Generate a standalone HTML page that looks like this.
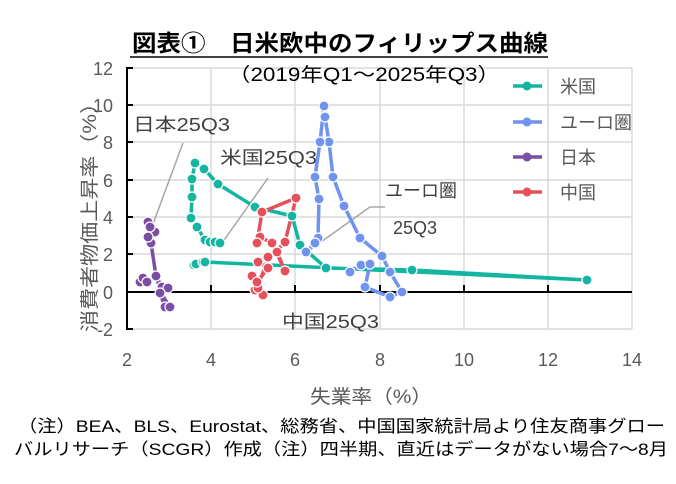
<!DOCTYPE html>
<html><head><meta charset="utf-8"><style>
body{margin:0;background:#fff;width:676px;height:479px;overflow:hidden}
svg text{font-family:"Liberation Sans","Noto Sans CJK JP",sans-serif}
</style></head><body>
<svg width="676" height="479" viewBox="0 0 676 479">
<g stroke="#d9d9d9" stroke-width="1.5" fill="none">
<line x1="127" y1="68" x2="632" y2="68"/><line x1="127" y1="105" x2="632" y2="105"/><line x1="127" y1="142" x2="632" y2="142"/><line x1="127" y1="180" x2="632" y2="180"/><line x1="127" y1="217" x2="632" y2="217"/><line x1="127" y1="254" x2="632" y2="254"/><line x1="127" y1="329" x2="632" y2="329"/>
<line x1="211" y1="68" x2="211" y2="329"/><line x1="295" y1="68" x2="295" y2="329"/><line x1="380" y1="68" x2="380" y2="329"/><line x1="464" y1="68" x2="464" y2="329"/><line x1="548" y1="68" x2="548" y2="329"/><line x1="632" y1="68" x2="632" y2="329"/>
</g>
<g stroke="#000" stroke-width="2">
<line x1="127" y1="67" x2="127" y2="330"/><line x1="127" y1="292" x2="632" y2="292"/>
<line x1="127" y1="68" x2="133" y2="68"/><line x1="127" y1="105" x2="133" y2="105"/><line x1="127" y1="142" x2="133" y2="142"/><line x1="127" y1="180" x2="133" y2="180"/><line x1="127" y1="217" x2="133" y2="217"/><line x1="127" y1="254" x2="133" y2="254"/><line x1="127" y1="329" x2="133" y2="329"/>
<line x1="211" y1="292" x2="211" y2="285"/><line x1="295" y1="292" x2="295" y2="285"/><line x1="380" y1="292" x2="380" y2="285"/><line x1="464" y1="292" x2="464" y2="285"/><line x1="548" y1="292" x2="548" y2="285"/>
</g>
<g font-size="18" fill="#595959" text-anchor="end">
<text x="113" y="75">12</text><text x="113" y="112">10</text><text x="113" y="149">8</text><text x="113" y="187">6</text><text x="113" y="224">4</text><text x="113" y="261">2</text><text x="113" y="299">0</text><text x="113" y="336">-2</text>
</g>
<g font-size="18" fill="#595959" text-anchor="middle">
<text x="127" y="366">2</text><text x="211" y="366">4</text><text x="295" y="366">6</text><text x="380" y="366">8</text><text x="464" y="366">10</text><text x="548" y="366">12</text><text x="632" y="366">14</text>
</g>
<text x="310" y="403" font-size="19" fill="#595959" textLength="122" lengthAdjust="spacingAndGlyphs">失業率（%）</text>
<text transform="translate(96,332) rotate(-90)" font-size="19" fill="#595959" textLength="240" lengthAdjust="spacingAndGlyphs">消費者物価上昇率（%）</text>
<text x="132" y="51" font-size="23" font-weight="bold" fill="#000" textLength="416" lengthAdjust="spacingAndGlyphs">図表①　日米欧中のフィリップス曲線</text>
<line x1="130" y1="57" x2="548" y2="57" stroke="#000" stroke-width="1.5"/>
<text x="228" y="81" font-size="19" fill="#000" textLength="272" lengthAdjust="spacingAndGlyphs">（2019年Q1～2025年Q3）</text>
<g stroke="#a6a6a6" stroke-width="1.5" fill="none">
<line x1="183" y1="143" x2="150" y2="232"/>
<line x1="268" y1="178" x2="222" y2="243"/>
<polyline points="385,207 370,207 307,252"/>
</g>
<g font-size="18" fill="#404040">
<text x="133" y="131" textLength="97" lengthAdjust="spacingAndGlyphs">日本25Q3</text><text x="220" y="164" textLength="97" lengthAdjust="spacingAndGlyphs">米国25Q3</text><text x="385" y="197">ユーロ圏</text><text x="393" y="234">25Q3</text><text x="282" y="328" textLength="97" lengthAdjust="spacingAndGlyphs">中国25Q3</text>
</g>
<g fill="none" stroke-width="3.5" stroke-linejoin="round">
<polyline stroke="#13b5a0" points="194,265 196,264 203,262 205,262 587,280 412,270 326,268 300,245 292,216 255,207 218,184 204,169 195,163 192,179 192,197 191,218 197,227 205,240 210,242 215,242 220,243"/>
<polyline stroke="#6f93ee" points="350,272 361,265 370,264 365,287 390,297 402,292 390,272 382,256 360,238 344,206 333,177 329,142 325,117 324,106 320,142 315,177 319,199 318,238 315,243 306,252"/>
<polyline stroke="#7b4ea3" points="140,282 143,278 147,282 156,276 162,287 168,288 160,293 165,307 170,307 162,295 156,276 151,243 148,222 155,232 150,227 148,237 151,243"/>
<polyline stroke="#e5505a" points="255,290 263,295 258,288 252,276 257,282 268,268 258,262 268,257 277,252 285,271 272,243 260,237 257,243 262,212 296,198 285,242 268,260 258,285"/>
</g>
<g stroke="#fff" stroke-width="1.2">
<g fill="#13b5a0"><circle cx="194" cy="265" r="5"/><circle cx="196" cy="264" r="5"/><circle cx="203" cy="262" r="5"/><circle cx="205" cy="262" r="5"/><circle cx="587" cy="280" r="5"/><circle cx="412" cy="270" r="5"/><circle cx="326" cy="268" r="5"/><circle cx="300" cy="245" r="5"/><circle cx="292" cy="216" r="5"/><circle cx="255" cy="207" r="5"/><circle cx="218" cy="184" r="5"/><circle cx="204" cy="169" r="5"/><circle cx="195" cy="163" r="5"/><circle cx="192" cy="179" r="5"/><circle cx="192" cy="197" r="5"/><circle cx="191" cy="218" r="5"/><circle cx="197" cy="227" r="5"/><circle cx="205" cy="240" r="5"/><circle cx="210" cy="242" r="5"/><circle cx="215" cy="242" r="5"/><circle cx="220" cy="243" r="5"/></g>
<g fill="#6f93ee"><circle cx="350" cy="272" r="5"/><circle cx="361" cy="265" r="5"/><circle cx="370" cy="264" r="5"/><circle cx="365" cy="287" r="5"/><circle cx="390" cy="297" r="5"/><circle cx="402" cy="292" r="5"/><circle cx="390" cy="272" r="5"/><circle cx="382" cy="256" r="5"/><circle cx="360" cy="238" r="5"/><circle cx="344" cy="206" r="5"/><circle cx="333" cy="177" r="5"/><circle cx="329" cy="142" r="5"/><circle cx="325" cy="117" r="5"/><circle cx="324" cy="106" r="5"/><circle cx="320" cy="142" r="5"/><circle cx="315" cy="177" r="5"/><circle cx="319" cy="199" r="5"/><circle cx="318" cy="238" r="5"/><circle cx="315" cy="243" r="5"/><circle cx="306" cy="252" r="5"/></g>
<g fill="#7b4ea3"><circle cx="140" cy="282" r="5"/><circle cx="143" cy="278" r="5"/><circle cx="147" cy="282" r="5"/><circle cx="156" cy="276" r="5"/><circle cx="162" cy="287" r="5"/><circle cx="168" cy="288" r="5"/><circle cx="160" cy="293" r="5"/><circle cx="165" cy="307" r="5"/><circle cx="170" cy="307" r="5"/><circle cx="151" cy="243" r="5"/><circle cx="148" cy="222" r="5"/><circle cx="155" cy="232" r="5"/><circle cx="150" cy="227" r="5"/><circle cx="148" cy="237" r="5"/></g>
<g fill="#e5505a"><circle cx="255" cy="290" r="5"/><circle cx="263" cy="295" r="5"/><circle cx="258" cy="288" r="5"/><circle cx="252" cy="276" r="5"/><circle cx="257" cy="282" r="5"/><circle cx="268" cy="268" r="5"/><circle cx="258" cy="262" r="5"/><circle cx="268" cy="257" r="5"/><circle cx="277" cy="252" r="5"/><circle cx="285" cy="271" r="5"/><circle cx="272" cy="243" r="5"/><circle cx="260" cy="237" r="5"/><circle cx="257" cy="243" r="5"/><circle cx="262" cy="212" r="5"/><circle cx="296" cy="198" r="5"/><circle cx="285" cy="242" r="5"/></g>
</g>
<g stroke-width="3.5">
<line x1="513" y1="86" x2="542" y2="86" stroke="#13b5a0"/><circle cx="527" cy="86" r="4.5" fill="#13b5a0"/>
<line x1="513" y1="122" x2="542" y2="122" stroke="#6f93ee"/><circle cx="527" cy="122" r="4.5" fill="#6f93ee"/>
<line x1="513" y1="157" x2="542" y2="157" stroke="#7b4ea3"/><circle cx="527" cy="157" r="4.5" fill="#7b4ea3"/>
<line x1="513" y1="192" x2="542" y2="192" stroke="#e5505a"/><circle cx="527" cy="192" r="4.5" fill="#e5505a"/>
</g>
<g font-size="18" fill="#595959">
<text x="560" y="93">米国</text><text x="560" y="129">ユーロ圏</text><text x="560" y="164">日本</text><text x="560" y="199">中国</text>
</g>
<g font-size="17" fill="#000">
<text x="18" y="432" textLength="647" lengthAdjust="spacingAndGlyphs">（注）BEA、BLS、Eurostat、総務省、中国国家統計局より住友商事グロー</text>
<text x="14" y="455" textLength="654" lengthAdjust="spacingAndGlyphs">バルリサーチ（SCGR）作成（注）四半期、直近はデータがない場合7～8月</text>
</g>
</svg>
</body></html>
